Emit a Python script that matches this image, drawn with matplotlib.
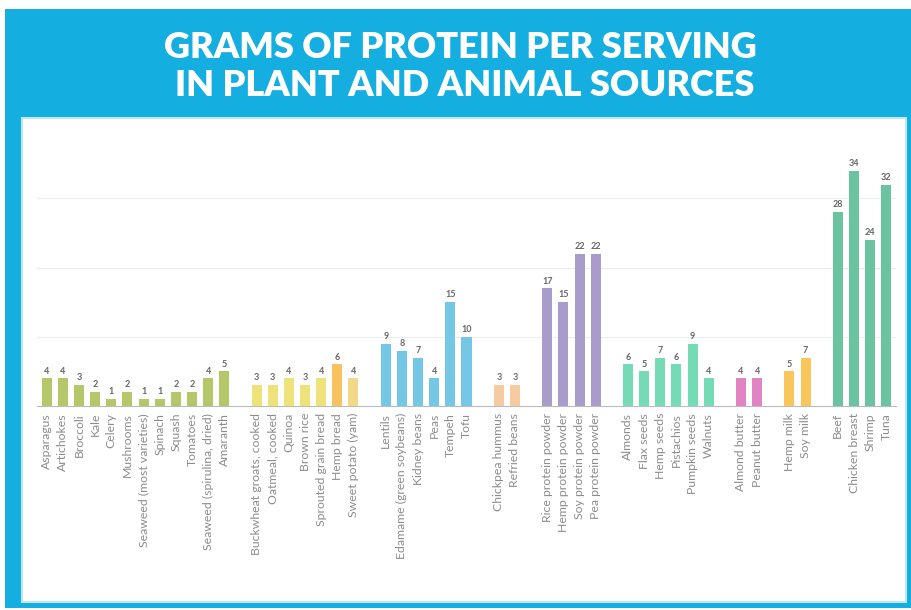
import numpy as np
import matplotlib.pyplot as plt
from matplotlib.patches import Rectangle

# food groups (grams of protein per serving)
veg_names = ['Asparagus', 'Artichokes', 'Broccoli', 'Kale', 'Celery', 'Mushrooms',
             'Seaweed (most varieties)', 'Spinach', 'Squash', 'Tomatoes',
             'Seaweed (spirulina, dried)', 'Amaranth']
veg_vals = [4, 4, 3, 2, 1, 2, 1, 1, 2, 2, 4, 5]

grain_names = ['Buckwheat groats, cooked', 'Oatmeal, cooked', 'Quinoa', 'Brown rice',
               'Sprouted grain bread', 'Hemp bread', 'Sweet potato (yam)']
grain_vals = [3, 3, 4, 3, 4, 6, 4]

legume_names = ['Lentils', 'Edamame (green soybeans)', 'Kidney beans', 'Peas', 'Tempeh', 'Tofu']
legume_vals = [9, 8, 7, 4, 15, 10]

bean_names = ['Chickpea hummus', 'Refried beans']
bean_vals = [3, 3]

powder_names = ['Rice protein powder', 'Hemp protein powder', 'Soy protein powder', 'Pea protein powder']
powder_vals = [17, 15, 22, 22]

nut_names = ['Almonds', 'Flax seeds', 'Hemp seeds', 'Pistachios', 'Pumpkin seeds', 'Walnuts']
nut_vals = [6, 5, 7, 6, 9, 4]

butter_names = ['Almond butter', 'Peanut butter']
butter_vals = [4, 4]

milk_names = ['Hemp milk', 'Soy milk']
milk_vals = [5, 7]

animal_names = ['Beef', 'Chicken breast', 'Shrimp', 'Tuna']
animal_vals = [28, 34, 24, 32]

groups = [
    (veg_names, veg_vals, ['#b4c86a'] * 12),
    (grain_names, grain_vals, ['#f0e27a'] * 5 + ['#f8c35e', '#f3d987']),
    (legume_names, legume_vals, ['#74c8e6'] * 6),
    (bean_names, bean_vals, ['#f5cc9f'] * 2),
    (powder_names, powder_vals, ['#a99ccb'] * 4),
    (nut_names, nut_vals, ['#74dbb5'] * 6),
    (butter_names, butter_vals, ['#e184c3'] * 2),
    (milk_names, milk_vals, ['#f8c65a'] * 2),
    (animal_names, animal_vals, ['#6cc3a0'] * 4),
]

fig = plt.figure(figsize=(9.11, 6.10), dpi=100)
W, H = 911, 610

# blue frame and white panel (behind the axes)
fig.patches.append(Rectangle((5 / W, 2 / H), 906 / W, 599 / H, transform=fig.transFigure,
                             facecolor='#14aee0', edgecolor='none', zorder=-3))
fig.patches.append(Rectangle((22 / W, 8 / H), 884 / W, 484 / H, transform=fig.transFigure,
                             facecolor='white', edgecolor='#bfe6f5', linewidth=1.5, zorder=-2))

fig.text(0.505, 1 - 48 / H, 'GRAMS OF PROTEIN PER SERVING', ha='center', va='center',
         color='white', fontsize=26, fontweight='heavy', family='Lato')
fig.text(0.51, 1 - 85 / H, 'IN PLANT AND ANIMAL SOURCES', ha='center', va='center',
         color='white', fontsize=26, fontweight='heavy', family='Lato')

ax = fig.add_axes([37 / W, 1 - 406 / H, 859 / W, 263 / H])
ax.set_facecolor('none')
ax.set_zorder(2)

pos = 0
xs, names, vals, cols = [], [], [], []
for n, v, c in groups:
    for i in range(len(n)):
        xs.append(pos)
        pos += 1
    names += n
    vals += v
    cols += c
    pos += 1  # empty slot between groups

bars = ax.bar(xs, vals, width=0.62, color=cols, zorder=3)
for x, v in zip(xs, vals):
    ax.text(x, v + 0.4, str(v), ha='center', va='bottom', fontsize=6.5,
            color='#666666', family='Lato', fontweight='bold')

ax.set_xlim(-0.6, xs[-1] + 0.6)
ax.set_ylim(0, 38)
ax.set_yticks([10, 20, 30])
ax.yaxis.grid(True, color='#ececec', linewidth=0.8, zorder=0)
ax.tick_params(axis='y', length=0, labelleft=False)
ax.set_xticks(xs)
ax.set_xticklabels(names, rotation=90, fontsize=8.8, color='#8c8c8c', family='Lato')
ax.tick_params(axis='x', length=0, pad=5)
for s in ['top', 'right', 'left']:
    ax.spines[s].set_visible(False)
ax.spines['bottom'].set_color('#b8bcc4')
ax.spines['bottom'].set_linewidth(0.8)

fig.savefig('out.png', dpi=100)
